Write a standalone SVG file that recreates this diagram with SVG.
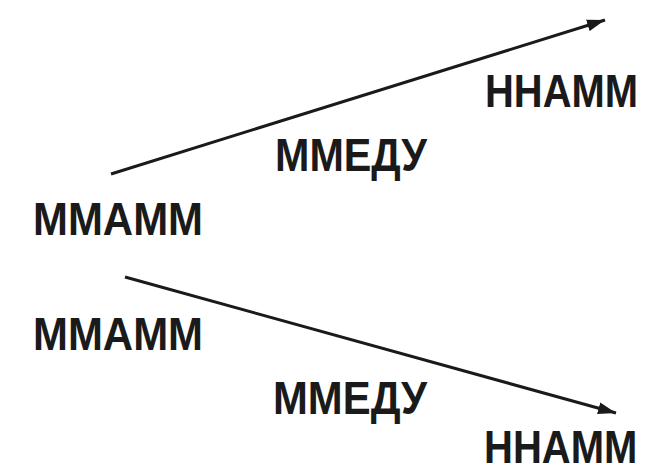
<svg xmlns="http://www.w3.org/2000/svg" width="648" height="474" viewBox="0 0 648 474">
  <style>
    .lbl { font-family: "Liberation Sans", Arial, sans-serif; font-weight: bold; font-size: 47px; fill: #1a1a1a; }
    .conn { stroke: #1a1a1a; stroke-width: 3; fill: none; }
  </style>
  <defs>
    <marker id="arr" markerUnits="userSpaceOnUse" markerWidth="20" markerHeight="12" refX="18" refY="6" orient="auto">
      <path d="M0,0 L18,6 L0,12 Z" fill="#1a1a1a"/>
    </marker>
  </defs>
  <rect width="648" height="474" fill="#ffffff"/>
  <g id="connectors">
    <line class="conn" x1="111" y1="174" x2="605" y2="20" marker-end="url(#arr)"/>
    <line class="conn" x1="125" y1="277" x2="616" y2="413" marker-end="url(#arr)"/>
  </g>
  <g id="node-top-left">
    <text class="lbl" x="33" y="235" textLength="170" lengthAdjust="spacingAndGlyphs">ММАММ</text>
  </g>
  <g id="node-top-mid">
    <text class="lbl" x="275" y="171" textLength="152" lengthAdjust="spacingAndGlyphs">ММЕДУ</text>
  </g>
  <g id="node-top-right">
    <text class="lbl" transform="translate(485,107) scale(0.85,1)" x="0" y="0">ННАММ</text>
  </g>
  <g id="node-bottom-left">
    <text class="lbl" x="33" y="350" textLength="170" lengthAdjust="spacingAndGlyphs">ММАММ</text>
  </g>
  <g id="node-bottom-mid">
    <text class="lbl" x="273" y="414" textLength="154" lengthAdjust="spacingAndGlyphs">ММЕДУ</text>
  </g>
  <g id="node-bottom-right">
    <text class="lbl" style="font-size:46px" transform="translate(484,463) scale(0.87,1)" x="0" y="0">ННАММ</text>
  </g>
</svg>
